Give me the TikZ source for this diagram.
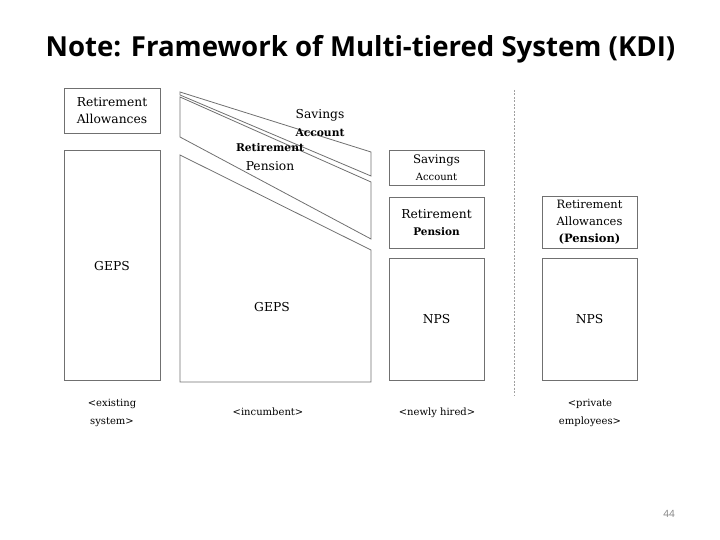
\documentclass[tikz,border=0pt]{standalone}
\usepackage{fontspec}
\setmainfont{DejaVu Serif}
\newfontfamily\titlefont{Open Sans}
\usetikzlibrary{positioning}
\definecolor{linegray}{HTML}{707070}
\definecolor{dashgray}{HTML}{A0A0A0}
\definecolor{numgray}{HTML}{808080}
\tikzset{
  box/.style={draw=linegray, line width=0.9pt, rectangle, inner sep=0pt, align=center,
    font=\fontsize{12.3}{17.5}\selectfont},
  wedge/.style={draw=linegray, line width=0.8pt, line join=miter},
  lbl/.style={inner sep=0pt, align=center, font=\fontsize{12.3}{17.5}\selectfont},
  captxt/.style={inner sep=0pt, align=center, font=\fontsize{10}{18}\selectfont},
}
\begin{document}
\begin{tikzpicture}[x=1pt,y=-1pt]
\useasboundingbox (0,0) rectangle (720,540);
% title
\node[anchor=base, inner sep=0pt, font=\titlefont\bfseries\fontsize{27.6}{32}\selectfont] (title) at (360.5,57) {Note: Framework of Multi-tiered System (KDI)};
% existing system
\node[box, minimum width=96pt, minimum height=45pt] (raL) at (112,110.5) {Retirement\\Allowances};
\node[box, minimum width=96pt, minimum height=230pt] (gepsL) at (112,265) {};
\node[lbl] (gepsLt) at (112,266) {GEPS};
% incumbent
\draw[wedge] (180,92) -- (371,152) -- (371,176) -- (180,95) -- cycle;
\draw[wedge] (180,97) -- (371,182) -- (371,239) -- (180,137) -- cycle;
\draw[wedge] (180,155) -- (371,250) -- (371,382) -- (180,382) -- cycle;
\node[lbl] (saI) at (320,115) {Savings};
\node[lbl, font=\bfseries\fontsize{10.7}{12}\selectfont] (saI2) at (320,133) {Account};
\node[lbl, font=\bfseries\fontsize{10.7}{12}\selectfont] (rpI) at (270,148) {Retirement};
\node[lbl] (rpI2) at (270,166) {Pension};
\node[lbl] (gepsI) at (272,307) {GEPS};
% newly hired
\node[box, minimum width=95pt, minimum height=35pt, font=\fontsize{11.8}{17}\selectfont] (saN) at (436.5,167.5) {Savings\\{\fontsize{10}{12}\selectfont Account}};
\node[box, minimum width=95pt, minimum height=51pt] (rpN) at (436.5,222.5) {Retirement\\{\bfseries\fontsize{10.5}{12}\selectfont Pension}};
\node[box, minimum width=95pt, minimum height=122pt] (npsN) at (436.5,319) {NPS};
% separator
\coordinate (dtop) at (514,90);
\coordinate (dbot) at (514,395);
\draw[dashgray, line width=0.6pt, dash pattern=on 2pt off 1.5pt] (dtop) -- (dbot);
% private
\node[box, minimum width=95pt, minimum height=52pt, font=\fontsize{11.5}{17}\selectfont] (raP) at (589.5,222) {Retirement\\Allowances\\{\bfseries (Pension)}};
\node[box, minimum width=95pt, minimum height=122pt] (npsP) at (589.5,319) {NPS};
% captions
\node[captxt] (c1) at (112,413) {<existing\\system>};
\node[captxt] (c2) at (268,412) {<incumbent>};
\node[captxt] (c3) at (437,413) {<newly hired>};
\node[captxt] (c4) at (590,413) {<private\\employees>};
% page number
\node[inner sep=0pt, text=numgray, font=\titlefont\fontsize{10}{12}\selectfont] (pg) at (669,514) {44};
\end{tikzpicture}
\end{document}
